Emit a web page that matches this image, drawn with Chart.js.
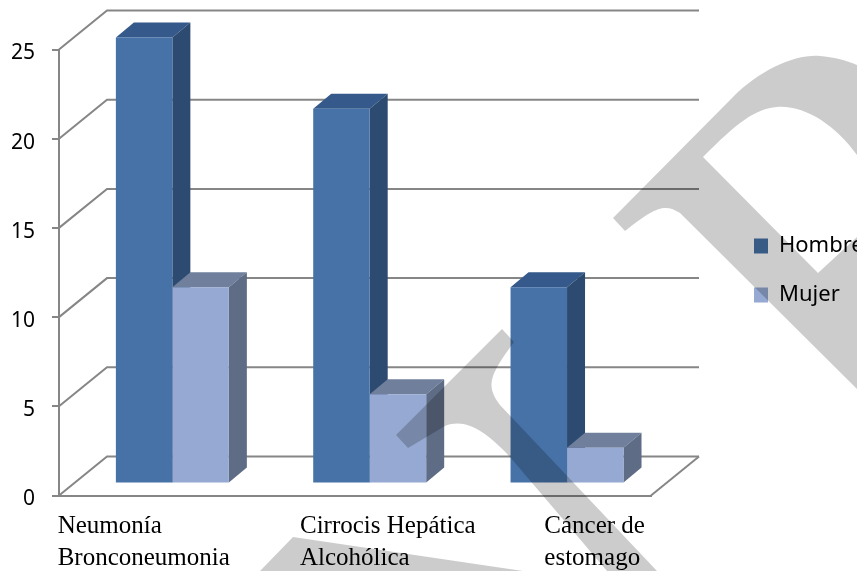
<!DOCTYPE html>
<html>
<head>
<meta charset="utf-8">
<script src="https://cdn.jsdelivr.net/npm/chart.js@4"></script>
<style>
html, body { margin: 0; padding: 0; background: #fff; overflow: hidden; }
canvas { display: block; }
</style>
</head>
<body>
<canvas id="causasChart" width="857" height="571"></canvas>
<script>
const categories = [['Neumonía', 'Bronconeumonia'], ['Cirrocis Hepática', 'Alcohólica'], ['Cáncer de', 'estomago']];
const hombre = [25, 21, 11];
const mujer = [11, 5, 2];
const yTicks = [0, 5, 10, 15, 20, 25];

// colores de cada cara: frente, arriba, lado
const hombreColors = ['#4672a8', '#34598a', '#2d4a70'];
const mujerColors = ['#95a9d2', '#6f7f9c', '#5f6c86'];
const gridColor = '#868686';

// profundidad de la pared y de las barras
const wallDepth = [48, -39];
const barDepth = [18, -15];
const barShift = [14.7, -12];
const labelShift = [-100, -55, -8];

function poly(ctx, pts, color) {
    ctx.fillStyle = color;
    ctx.beginPath();
    pts.forEach((p, i) => i ? ctx.lineTo(p[0], p[1]) : ctx.moveTo(p[0], p[1]));
    ctx.closePath();
    ctx.fill();
}

// pared del fondo y suelo, a partir de las escalas
const wallPlugin = {
    id: 'wall',
    beforeDatasetsDraw(chart) {
        const { ctx, scales: { x, y } } = chart;
        const [dx, dy] = wallDepth;
        ctx.save();
        ctx.strokeStyle = gridColor;
        ctx.lineWidth = 2;
        yTicks.forEach(v => {
            const py = y.getPixelForValue(v);
            ctx.beginPath();
            ctx.moveTo(x.left, py);
            ctx.lineTo(x.left + dx, py + dy);
            ctx.lineTo(x.right + dx, py + dy);
            ctx.stroke();
        });
        ctx.beginPath();
        ctx.moveTo(x.right, y.bottom);
        ctx.lineTo(x.right + dx, y.bottom + dy);
        ctx.stroke();
        ctx.restore();
    }
};

// caras superior y lateral de las barras; las barras se corren hacia el fondo
const barsPlugin = {
    id: 'bars3d',
    beforeDatasetsDraw(chart) {
        const { ctx } = chart;
        const [dx, dy] = barDepth;
        ctx.save();
        ctx.translate(barShift[0], barShift[1]);
        [hombreColors, mujerColors].forEach((colors, d) => {
            chart.getDatasetMeta(d).data.forEach(bar => {
                const l = bar.x - bar.width / 2;
                const r = bar.x + bar.width / 2;
                poly(ctx, [[l, bar.y], [l + dx, bar.y + dy], [r + dx, bar.y + dy], [r, bar.y]], colors[1]);
                poly(ctx, [[r, bar.y], [r + dx, bar.y + dy], [r + dx, bar.base + dy], [r, bar.base]], colors[2]);
            });
        });
    },
    afterDatasetsDraw(chart) {
        chart.ctx.restore();
    }
};

// leyenda y etiquetas del eje x en su sitio
const placePlugin = {
    id: 'place',
    afterLayout(chart) {
        const legend = chart.legend;
        legend.left = 727;
        legend.right = 857;
        legend.top = 208;
        legend.bottom = 340;
        chart.scales.x.getLabelItems().forEach((item, i) => {
            item.options.translation[0] += labelShift[i];
        });
    }
};

// marca de agua gris encima de todo
const watermarkPlugin = {
    id: 'watermark',
    afterDraw(chart) {
        const { ctx } = chart;
        ctx.save();
        ctx.fillStyle = 'rgba(0,0,0,0.2)';
        ctx.beginPath();
        ctx.moveTo(613, 218);
        ctx.lineTo(733, 97);
        ctx.bezierCurveTo(760, 70, 795, 54, 820, 56);
        ctx.bezierCurveTo(833, 57, 846, 60, 857, 65);
        ctx.lineTo(857, 155);
        ctx.bezierCurveTo(835, 125, 805, 105, 777, 107);
        ctx.bezierCurveTo(755, 109, 738, 122, 703, 157);
        ctx.lineTo(818, 273);
        ctx.lineTo(857, 237);
        ctx.lineTo(857, 389);
        ctx.lineTo(680, 213);
        ctx.bezierCurveTo(665, 203, 655, 207, 625, 231);
        ctx.closePath();
        ctx.fill();

        ctx.beginPath();
        ctx.moveTo(502, 329);
        ctx.lineTo(514, 342);
        ctx.bezierCurveTo(490, 375, 485, 385, 500, 405);
        ctx.lineTo(657, 571);
        ctx.lineTo(607, 571);
        ctx.lineTo(510, 457);
        ctx.bezierCurveTo(485, 430, 465, 418, 445, 426);
        ctx.lineTo(408, 448);
        ctx.lineTo(396, 435);
        ctx.closePath();
        ctx.fill();

        ctx.beginPath();
        ctx.moveTo(293, 537);
        ctx.lineTo(260, 571);
        ctx.lineTo(523, 571);
        ctx.closePath();
        ctx.fill();
        ctx.restore();
    }
};

new Chart(document.getElementById('causasChart').getContext('2d'), {
    type: 'bar',
    data: {
        labels: categories,
        datasets: [
            { label: 'Hombre', data: hombre, backgroundColor: hombreColors[0], clip: false },
            { label: 'Mujer', data: mujer, backgroundColor: mujerColors[0], clip: false }
        ]
    },
    options: {
        responsive: false,
        animation: false,
        categoryPercentage: 0.5725,
        barPercentage: 1,
        layout: { padding: { left: 0, top: 49.5, right: 206, bottom: 0 } },
        plugins: {
            tooltip: { enabled: false },
            title: { display: false },
            legend: {
                position: 'chartArea',
                align: 'start',
                labels: {
                    boxWidth: 14,
                    boxHeight: 15,
                    padding: 27,
                    color: '#000',
                    font: { family: '"Noto Sans"', size: 22 }
                }
            }
        },
        scales: {
            x: {
                afterFit: s => { s.height = 75.5; },
                border: { color: gridColor, width: 2 },
                grid: { display: false },
                ticks: {
                    align: 'start',
                    autoSkip: false,
                    maxRotation: 0,
                    padding: 7,
                    color: '#000',
                    font: { family: '"Liberation Serif"', size: 25, lineHeight: 1.28 }
                }
            },
            y: {
                min: 0,
                max: 25,
                afterFit: s => { s.width = 59; },
                afterBuildTicks: s => { s.ticks = yTicks.map(v => ({ value: v })); },
                border: { color: gridColor, width: 2 },
                grid: { drawOnChartArea: false, color: gridColor, lineWidth: 2, tickLength: 7 },
                ticks: {
                    padding: 17,
                    labelOffset: 4,
                    color: '#000',
                    font: { family: '"Noto Sans"', size: 21 }
                }
            }
        }
    },
    plugins: [wallPlugin, barsPlugin, placePlugin, watermarkPlugin]
});
</script>
</body>
</html>
